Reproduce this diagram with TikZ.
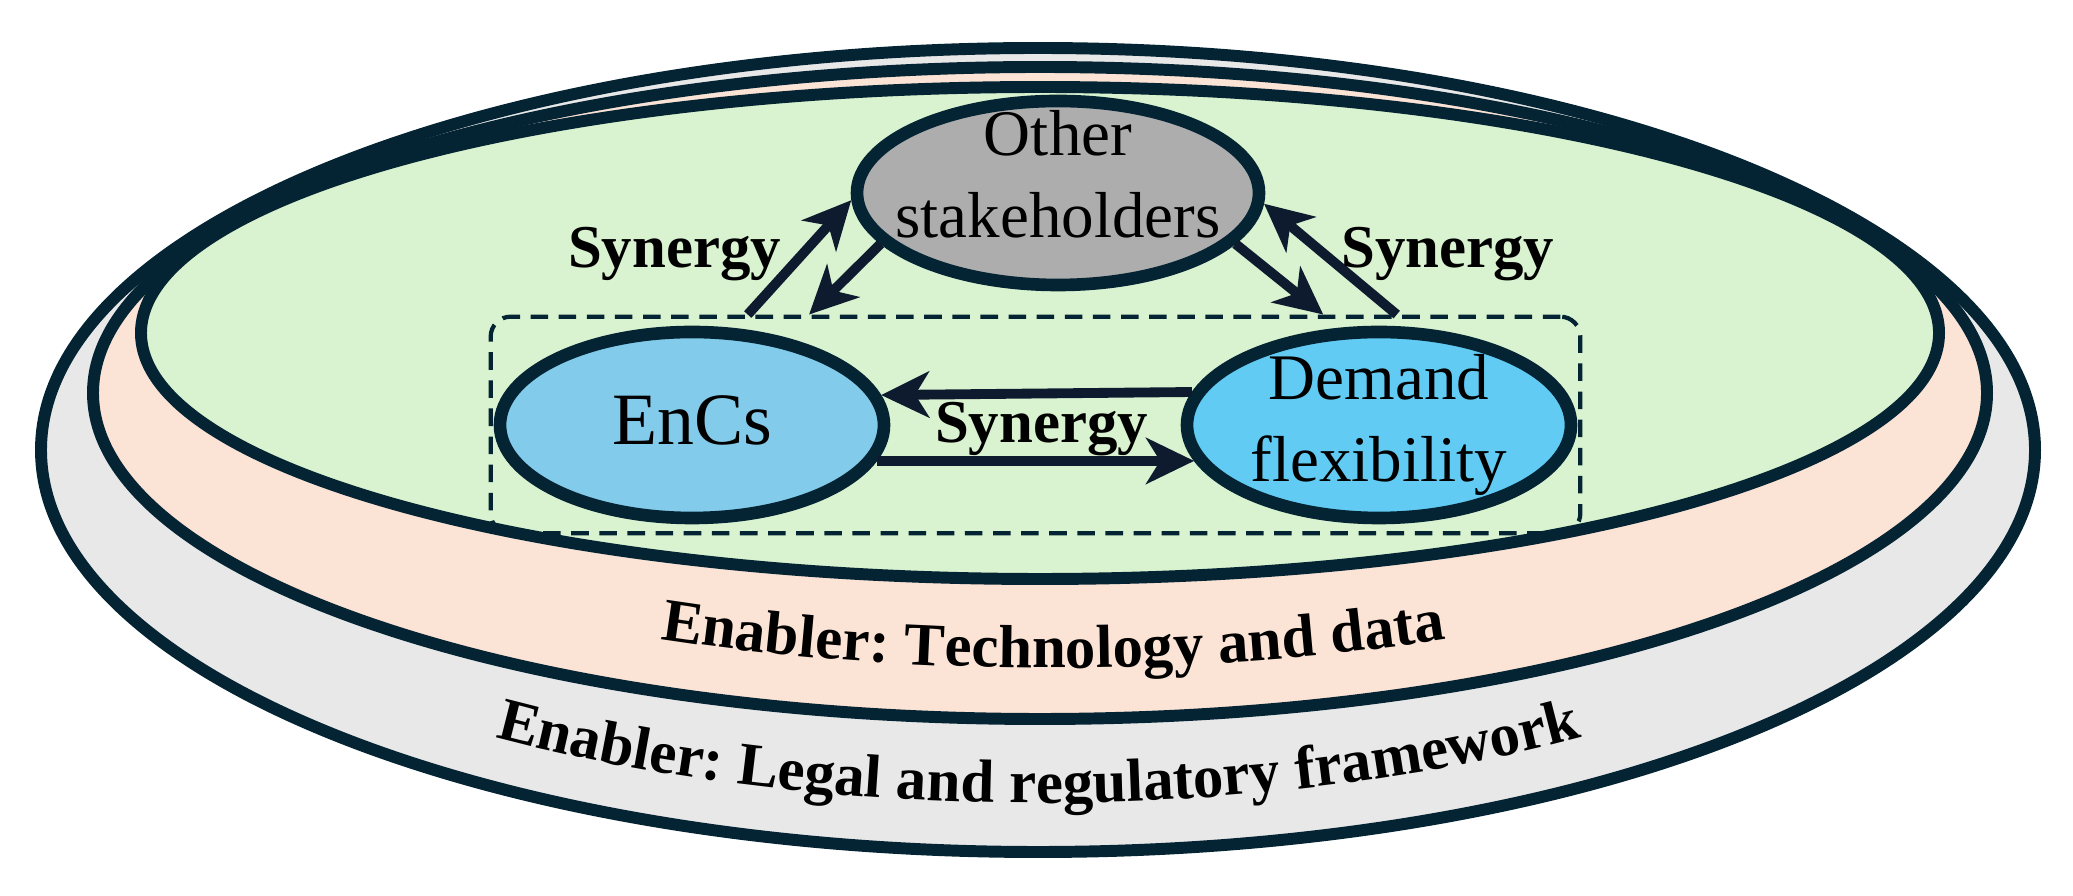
\documentclass[tikz,border=0pt]{standalone}
\usepackage{fontspec}
\setmainfont{Liberation Serif}
\usetikzlibrary{arrows.meta,positioning,shapes.geometric,fit,decorations.text}
\definecolor{ink}{RGB}{4,36,51}
\definecolor{arrowink}{RGB}{14,27,46}
\definecolor{legalgray}{RGB}{232,232,232}
\definecolor{techpeach}{RGB}{251,227,214}
\definecolor{coregreen}{RGB}{217,242,208}
\definecolor{othergray}{RGB}{173,173,173}
\definecolor{encsblue}{RGB}{131,203,235}
\definecolor{demblue}{RGB}{97,203,243}

\begin{document}
\begin{tikzpicture}[>={Stealth[length=4.8mm,width=4.6mm,inset=1.4mm]},every node/.style={align=center,font=\fontsize{18.5}{23.5}\selectfont},ring/.style={draw=ink,ellipse,line width=3.4pt,inner sep=0pt},actor/.style={draw=ink,ellipse,line width=3.6pt,inner sep=-3mm},pairbox/.style={draw=ink,dash pattern=on 5pt off 3pt,line width=1.2pt,rounded corners=2mm},syn/.style={->,color=arrowink,line width=2.8pt},synlabel/.style={text=black,font=\bfseries\fontsize{17.3}{20}\selectfont},enabler/.style={decorate,decoration={text along path,text align=center,text={|\bfseries\fontsize{17.3}{20}\selectfont|#1}}}]
\useasboundingbox (0,0) rectangle (20.73,8.95);
\node[ring,fill=legalgray,minimum width=19.94cm,minimum height=8.04cm] (legal) at (10.38,4.45) {};
\node[ring,fill=techpeach,minimum width=18.94cm,minimum height=6.52cm] (tech) at (10.40,5.02) {};
\node[ring,fill=coregreen,minimum width=17.98cm,minimum height=4.92cm] (core) at (10.40,5.62) {};
\path[enabler={Enabler: Legal and regulatory framework}] (10.39,4.75) ++(220:9.70cm and 3.83cm) arc[start angle=220,end angle=320,x radius=9.70cm,y radius=3.83cm];
\path[enabler={Enabler: Technology and data}] (10.53,5.32) ++(225:9.23cm and 3.05cm) arc[start angle=225,end angle=315,x radius=9.23cm,y radius=3.05cm];
\node[actor,fill=othergray,minimum width=4.02cm,minimum height=1.84cm,text depth=0.38cm] (other) at (10.58,7.02) {Other\\stakeholders};
\node[actor,fill=encsblue,minimum width=3.84cm,minimum height=1.86cm,text depth=0.1cm,font=\fontsize{21}{25}\selectfont] (encs) at (6.92,4.70) {EnCs};
\node[actor,fill=demblue,minimum width=3.84cm,minimum height=1.86cm] (dem) at (13.79,4.70) {Demand\\flexibility};
\node[pairbox,fit=(encs)(dem),inner xsep=0.3mm,inner ysep=0.9mm] (pair) {};
\draw[syn] (pair.159.6) -- node[synlabel,pos=0.53,left=0.5mm]{Synergy} (other.182);
\draw[syn] (other.196) -- (pair.154);
\draw[syn] (other.344) -- (pair.21.9);
\draw[syn] (pair.17.7) -- node[synlabel,pos=0.55,right=0.1mm]{Synergy} (other.357.2);
\draw[syn] (dem.170.3) -- (encs.9.7);
\draw[syn] (encs.-11.4) -- (dem.191.4);
\node[synlabel,xshift=0.6mm,yshift=-0.4mm] (synmid) at (pair) {Synergy};
\end{tikzpicture}
\end{document}
